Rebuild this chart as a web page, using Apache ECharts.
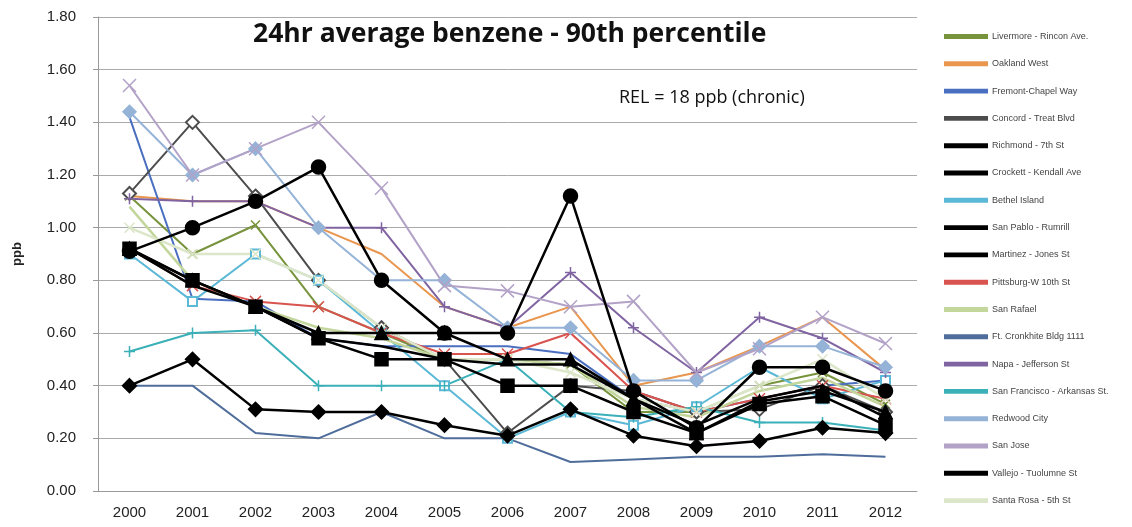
<!DOCTYPE html>
<html>
<head>
<meta charset="utf-8">
<script src="https://cdn.jsdelivr.net/npm/echarts@6/dist/echarts.min.js"></script>
<style>
  html, body { margin: 0; padding: 0; background: #fff; }
  #main { width: 1132px; height: 527px; }
</style>
</head>
<body>
<div id="main"></div>
<script type="text/javascript">
  // years on the x axis
  var years = ['2000','2001','2002','2003','2004','2005','2006','2007','2008','2009','2010','2011','2012'];

  // 90th percentile values per site (ppb)
  var livermore   = [1.12, 0.90, 1.01, 0.70, 0.60, 0.50, 0.50, 0.48, 0.30, 0.30, 0.40, 0.45, 0.33];
  var oakland     = [1.12, 1.10, 1.10, 1.00, 0.90, 0.70, 0.62, 0.70, 0.40, 0.45, 0.55, 0.66, 0.46];
  var fremont     = [1.42, 0.73, 0.72, 0.58, 0.55, 0.55, 0.55, 0.52, 0.35, 0.30, 0.35, 0.40, 0.42];
  var concord     = [1.13, 1.40, 1.12, 0.80, 0.62, 0.50, 0.22, 0.40, 0.38, 0.30, 0.31, 0.40, 0.30];
  var richmond    = [0.92, 0.80, 0.70, 0.60, 0.60, 0.60, 0.50, 0.50, 0.35, 0.22, 0.34, 0.38, 0.30];
  var crockett    = [0.92, 0.80, 0.70, 0.58, 0.50, 0.50, 0.40, 0.40, 0.30, 0.22, 0.33, 0.36, 0.25];
  var bethel      = [0.90, 0.72, 0.90, 0.80, 0.60, 0.40, 0.20, 0.30, 0.25, 0.32, 0.47, 0.35, 0.42];
  var sanPablo    = [0.92, 0.78, 0.70, 0.58, 0.55, 0.50, 0.48, 0.48, 0.35, 0.25, 0.35, 0.40, 0.28];
  var martinez    = [0.91, 1.00, 1.10, 1.23, 0.80, 0.60, 0.60, 1.12, 0.38, 0.24, 0.47, 0.47, 0.38];
  var pittsburg   = [0.92, 0.78, 0.72, 0.70, 0.60, 0.52, 0.52, 0.60, 0.38, 0.30, 0.35, 0.40, 0.35];
  var sanRafael   = [1.08, 0.80, 0.70, 0.62, 0.58, 0.50, 0.50, 0.48, 0.32, 0.28, 0.38, 0.43, 0.32];
  var cronkhite   = [0.40, 0.40, 0.22, 0.20, 0.30, 0.20, 0.20, 0.11, 0.12, 0.13, 0.13, 0.14, 0.13];
  var napa        = [1.11, 1.10, 1.10, 1.00, 1.00, 0.70, 0.62, 0.83, 0.62, 0.45, 0.66, 0.58, 0.45];
  var sanFran     = [0.53, 0.60, 0.61, 0.40, 0.40, 0.40, 0.50, 0.30, 0.28, 0.32, 0.26, 0.26, 0.23];
  var redwood     = [1.44, 1.20, 1.30, 1.00, 0.80, 0.80, 0.62, 0.62, 0.42, 0.42, 0.55, 0.55, 0.47];
  var sanJose     = [1.54, 1.20, 1.30, 1.40, 1.15, 0.78, 0.76, 0.70, 0.72, 0.45, 0.54, 0.66, 0.56];
  var vallejo     = [0.40, 0.50, 0.31, 0.30, 0.30, 0.25, 0.21, 0.31, 0.21, 0.17, 0.19, 0.24, 0.22];
  var santaRosa   = [1.00, 0.90, 0.90, 0.80, 0.62, 0.50, 0.50, 0.45, 0.35, 0.30, 0.40, 0.50, 0.35];

  var xMark = 'path://M0,0L10,10M10,0L0,10';
  var plusMark = 'path://M5,0L5,10M0,5L10,5';
  // legend shows a plain line like the original
  var legendIcon = 'path://M0,0L100,0L100,7L0,7Z';

  function line(name, data, color, symbol, width, size) {
    return {
      name: name,
      type: 'line',
      data: data,
      symbol: symbol || 'none',
      symbolSize: size || 9,
      showSymbol: symbol ? true : false,
      lineStyle: { color: color, width: width || 2 },
      itemStyle: { color: color, borderColor: color, borderWidth: 1.5 },
      emphasis: { disabled: true },
      z: color === '#000000' ? 3 : 2
    };
  }

  var chart = echarts.init(document.getElementById('main'));
  var option = {
    animation: false,
    textStyle: { fontFamily: 'Liberation Sans, Arial, sans-serif' },
    graphic: [
      { type: 'text', left: 253, top: 21,
        style: { text: '24hr average benzene - 90th percentile', font: 'bold 26.5px "Open Sans", sans-serif', fill: '#111' } },
      { type: 'text', left: 619, top: 89,
        style: { text: 'REL = 18 ppb (chronic)', font: '18px "Open Sans", sans-serif', fill: '#111' } }
    ],
    legend: {
      orient: 'vertical',
      left: 939,
      top: 27,
      icon: legendIcon,
      itemWidth: 42,
      itemHeight: 14,
      itemGap: 18.3,
      textStyle: { fontSize: 9, color: '#444' },
      data: ['Livermore - Rincon Ave.','Oakland West','Fremont-Chapel Way','Concord - Treat Blvd','Richmond - 7th St',
             'Crockett - Kendall Ave','Bethel Island','San Pablo - Rumrill','Martinez - Jones St','Pittsburg-W 10th St',
             'San Rafael','Ft. Cronkhite Bldg 1111','Napa - Jefferson St','San Francisco - Arkansas St.','Redwood City',
             'San Jose','Vallejo - Tuolumne St','Santa Rosa - 5th St']
    },
    grid: { left: 98, right: 215, top: 17, bottom: 36 },
    xAxis: {
      type: 'category',
      data: years,
      axisLine: { lineStyle: { color: '#999' } },
      axisTick: { show: false },
      axisLabel: { fontSize: 15, color: '#222', margin: 14 }
    },
    yAxis: {
      type: 'value',
      name: 'ppb',
      nameLocation: 'middle',
      nameGap: 74,
      nameTextStyle: { fontWeight: 'bold', fontSize: 13, color: '#222' },
      min: 0,
      max: 1.8,
      interval: 0.2,
      axisLine: { show: true, lineStyle: { color: '#999' } },
      axisTick: { show: true, length: 5, inside: false, lineStyle: { color: '#999' } },
      axisLabel: { fontSize: 15, color: '#222', margin: 22, formatter: function (v) { return v.toFixed(2); } },
      splitLine: { lineStyle: { color: '#aaa', width: 1 } }
    },
    series: [
      line('Livermore - Rincon Ave.', livermore, '#77933C', xMark, 2, 9),
      line('Oakland West', oakland, '#E9964F', null, 2),
      line('Fremont-Chapel Way', fremont, '#4A6FC0', null, 2),
      line('Concord - Treat Blvd', concord, '#4D4D4D', 'emptyDiamond', 2, 13),
      line('Richmond - 7th St', richmond, '#000000', 'triangle', 2.5, 13),
      line('Crockett - Kendall Ave', crockett, '#000000', 'rect', 2.5, 13),
      line('Bethel Island', bethel, '#5BB8D6', 'emptyRect', 2, 9),
      line('San Pablo - Rumrill', sanPablo, '#000000', null, 2.5),
      line('Martinez - Jones St', martinez, '#000000', 'circle', 2.5, 14),
      line('Pittsburg-W 10th St', pittsburg, '#D9534F', xMark, 2, 11),
      line('San Rafael', sanRafael, '#C3D69B', null, 2.5),
      line('Ft. Cronkhite Bldg 1111', cronkhite, '#4F6D9B', null, 2),
      line('Napa - Jefferson St', napa, '#8064A2', plusMark, 2, 11),
      line('San Francisco - Arkansas St.', sanFran, '#3BB0B8', plusMark, 2, 11),
      line('Redwood City', redwood, '#95B3D7', 'diamond', 2, 13),
      line('San Jose', sanJose, '#B3A2C7', xMark, 2, 13),
      line('Vallejo - Tuolumne St', vallejo, '#000000', 'diamond', 2.5, 14),
      line('Santa Rosa - 5th St', santaRosa, '#DCE6C8', xMark, 2.5, 10)
    ]
  };
  chart.setOption(option);
</script>
</body>
</html>
